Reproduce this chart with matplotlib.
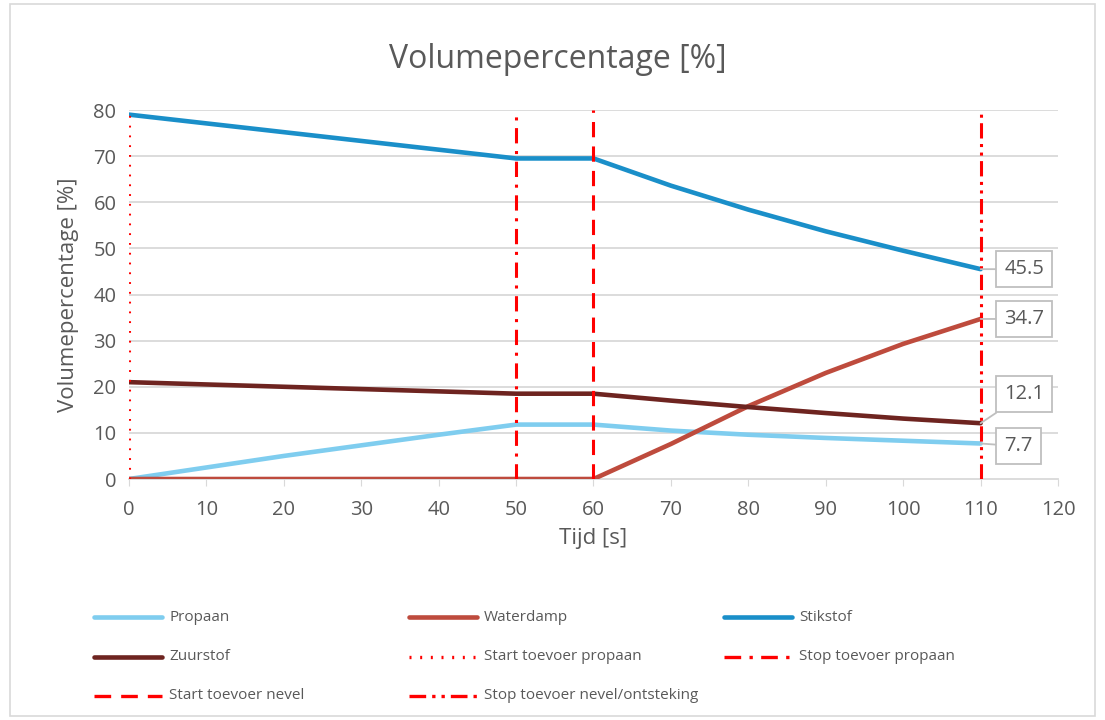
import matplotlib
matplotlib.use("Agg")
import matplotlib.pyplot as plt
from matplotlib.lines import Line2D
from matplotlib.patches import Rectangle

plt.rcParams['font.family'] = ['Open Sans', 'DejaVu Sans']

tijd = [0, 10, 20, 30, 40, 50, 60, 70, 80, 90, 100, 110]
propaan = [0, 2.5, 5.0, 7.3, 9.6, 11.8, 11.8, 10.5, 9.6, 8.9, 8.3, 7.7]
waterdamp = [0, 0, 0, 0, 0, 0, 0, 7.6, 15.8, 23.0, 29.3, 34.7]
stikstof = [79.0, 77.1, 75.2, 73.3, 71.4, 69.5, 69.5, 63.6, 58.4, 53.7, 49.5, 45.5]
zuurstof = [21.0, 20.5, 20.0, 19.5, 19.0, 18.5, 18.5, 17.0, 15.6, 14.3, 13.1, 12.1]

markers_x = [0, 50, 60, 110]
markers_names = ["Start toevoer propaan", "Stop toevoer propaan",
                 "Start toevoer nevel", "Stop toevoer nevel/ontsteking"]
marker_top = 80

series = [("Propaan", propaan, "#7fcdef"),
          ("Waterdamp", waterdamp, "#be4b3d"),
          ("Stikstof", stikstof, "#1a8fc9"),
          ("Zuurstof", zuurstof, "#6e2420")]

txt = "#595959"
fig = plt.figure(figsize=(11.05, 7.2), dpi=100)
fig.patches.append(Rectangle((0.009, 0.006), 0.982, 0.988, transform=fig.transFigure,
                             fill=False, edgecolor="#d9d9d9", lw=1.2))
ax = fig.add_axes([0.1167, 0.3347, 0.8408, 0.5125])

for y in range(10, 90, 10):
    ax.axhline(y, color="#d9d9d9", lw=1.3, zorder=0)

for name, vals, col in series:
    ax.plot(tijd, vals, color=col, lw=3.3, solid_capstyle="round", zorder=3)

styles = [(0, (0.6, 2.6)),
          (0, (5, 2.5, 1, 2.5)),
          (0, (5, 3)),
          (0, (5, 1.8, 1, 1.8, 1, 1.8))]
for xv, st in zip(markers_x, styles):
    ax.plot([xv, xv], [0, marker_top], color="#ff0000", lw=2.2, zorder=4, ls=st)

ax.set_xlim(0, 120)
ax.set_ylim(0, 80)
ax.set_xticks(range(0, 121, 10))
ax.set_yticks(range(0, 81, 10))
for s in ["top", "right", "left"]:
    ax.spines[s].set_visible(False)
ax.spines["bottom"].set_color("#d9d9d9")
ax.spines["bottom"].set_linewidth(1.3)
ax.tick_params(axis="both", colors=txt, labelsize=14.5, length=0, pad=9)
ax.tick_params(axis="x", length=5, color="#d9d9d9", direction="out", pad=10)
ax.set_xlabel("Tijd [s]", fontsize=16, color=txt, labelpad=6)
ax.set_ylabel("Volumepercentage [%]", fontsize=16, color=txt, labelpad=10)
fig.text(0.505, 0.918, "Volumepercentage [%]", ha="center", va="center", fontsize=23, color=txt)

# data labels
offsets = {"Stikstof": 0, "Waterdamp": 0, "Zuurstof": 21, "Propaan": -2}
for name, vals, col in series:
    v = vals[-1]
    ax.annotate(f"{v}", xy=(tijd[-1], v), xytext=(17, offsets[name]), textcoords="offset points",
                fontsize=14.5, color=txt, va="center", ha="left",
                bbox=dict(boxstyle="square,pad=0.4", fc="white", ec="#bfbfbf", lw=1.3),
                arrowprops=dict(arrowstyle="-", color="#bfbfbf", lw=1.3, shrinkA=0, shrinkB=0),
                zorder=6, annotation_clip=False)

# legend
entries = [("Propaan", series[0][2], "-", 3.3), ("Waterdamp", series[1][2], "-", 3.3),
           ("Stikstof", series[2][2], "-", 3.3), ("Zuurstof", series[3][2], "-", 3.3)]
for nm, st in zip(markers_names, styles):
    entries.append((nm, "#ff0000", st, 2.4))
cols = [0.085, 0.37, 0.655]
rows = [0.143, 0.088, 0.034]
for i, (lb, col, st, lw) in enumerate(entries):
    r, c = divmod(i, 3)
    x0, y0 = cols[c], rows[r]
    ln = Line2D([x0, x0 + 0.062], [y0, y0], transform=fig.transFigure,
                color=col, lw=lw, linestyle=st, solid_capstyle="round")
    fig.lines.append(ln)
    fig.text(x0 + 0.068, y0, lb, fontsize=11, color=txt, va="center", ha="left")

fig.savefig("out.png", dpi=100)
